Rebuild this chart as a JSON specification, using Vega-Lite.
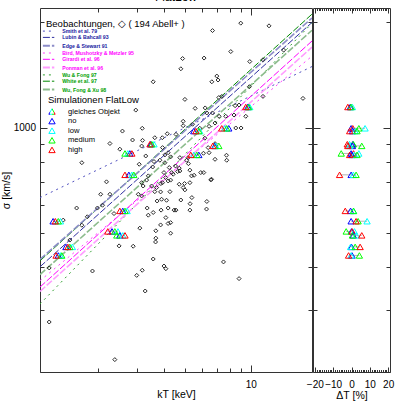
{
"$schema": "https://vega.github.io/schema/vega-lite/v6.json",
"background": "white",
"padding": {"left": 0, "top": -10, "right": 0, "bottom": 0},
"bounds": "flush",
"spacing": 1,
"config": {
  "view": {"stroke": "#333333", "strokeWidth": 1},
  "font": "Liberation Sans",
  "axis": {"grid": false, "domain": false, "tickColor": "#333333", "tickWidth": 1, "labelFont": "Liberation Sans", "labelFontSize": 10, "labelColor": "#000000", "titleFont": "Liberation Sans", "titleFontSize": 10.5, "titleFontWeight": "normal", "titleColor": "#000000", "labelFlush": false}
},
"datasets": {
  "obs": [
    {"kT":9.00,"sigma":1991},{"kT":12.13,"sigma":1956},{"kT":6.68,"sigma":1896},{"kT":8.10,"sigma":1651},{"kT":6.11,"sigma":1582},
    {"kT":4.87,"sigma":1577},{"kT":4.78,"sigma":1474},{"kT":9.90,"sigma":1546},{"kT":11.38,"sigma":1564},{"kT":14.16,"sigma":1667},
    {"kT":6.99,"sigma":1405},{"kT":6.63,"sigma":1353},{"kT":7.08,"sigma":1369},{"kT":3.57,"sigma":1353},{"kT":4.99,"sigma":1205},
    {"kT":9.86,"sigma":1310},{"kT":11.38,"sigma":1229},{"kT":17.36,"sigma":1213},{"kT":7.14,"sigma":1220},{"kT":7.36,"sigma":1228},
    {"kT":2.97,"sigma":1123},{"kT":5.56,"sigma":1136},{"kT":6.18,"sigma":1139},{"kT":6.29,"sigma":1102},{"kT":6.68,"sigma":1102},
    {"kT":8.48,"sigma":1156},{"kT":8.84,"sigma":1161},{"kT":9.49,"sigma":1078},{"kT":8.38,"sigma":1087},{"kT":4.90,"sigma":1043},
    {"kT":4.90,"sigma":1013},{"kT":7.68,"sigma":1078},{"kT":5.84,"sigma":996},{"kT":6.44,"sigma":1009},{"kT":6.86,"sigma":1031},
    {"kT":7.16,"sigma":1078},{"kT":8.54,"sigma":998},{"kT":9.03,"sigma":998},{"kT":3.18,"sigma":996},{"kT":2.58,"sigma":978},
    {"kT":5.41,"sigma":1023},{"kT":2.26,"sigma":901},{"kT":2.87,"sigma":922},{"kT":3.19,"sigma":920},{"kT":3.63,"sigma":936},
    {"kT":3.93,"sigma":936},{"kT":4.14,"sigma":961},{"kT":4.54,"sigma":957},{"kT":3.94,"sigma":877},{"kT":4.18,"sigma":848},
    {"kT":4.04,"sigma":836},{"kT":4.29,"sigma":825},{"kT":3.83,"sigma":807},{"kT":4.04,"sigma":794},{"kT":1.68,"sigma":794},
    {"kT":3.55,"sigma":772},{"kT":4.23,"sigma":769},{"kT":4.52,"sigma":777},{"kT":4.73,"sigma":821},{"kT":5.16,"sigma":821},
    {"kT":4.73,"sigma":752},{"kT":4.41,"sigma":736},{"kT":4.07,"sigma":720},{"kT":3.39,"sigma":728},{"kT":3.16,"sigma":696},
    {"kT":3.21,"sigma":681},{"kT":3.51,"sigma":681},{"kT":3.70,"sigma":674},{"kT":3.86,"sigma":655},{"kT":3.94,"sigma":696},
    {"kT":4.18,"sigma":704},{"kT":5.26,"sigma":696},{"kT":2.18,"sigma":700},{"kT":2.05,"sigma":645},{"kT":2.26,"sigma":645},
    {"kT":3.05,"sigma":645},{"kT":3.90,"sigma":624},{"kT":4.90,"sigma":674},{"kT":5.35,"sigma":728},{"kT":2.51,"sigma":868},
    {"kT":3.16,"sigma":886},{"kT":3.30,"sigma":830},{"kT":3.08,"sigma":786},{"kT":3.60,"sigma":800},{"kT":6.09,"sigma":744},
    {"kT":6.61,"sigma":712},{"kT":6.86,"sigma":900},{"kT":7.74,"sigma":834},{"kT":7.76,"sigma":807},{"kT":6.07,"sigma":845},
    {"kT":6.44,"sigma":848},{"kT":6.86,"sigma":812},{"kT":5.08,"sigma":807},{"kT":5.18,"sigma":789},{"kT":4.70,"sigma":766},
    {"kT":4.62,"sigma":749},{"kT":5.26,"sigma":756},{"kT":5.90,"sigma":744},{"kT":5.50,"sigma":731},{"kT":6.56,"sigma":709},
    {"kT":4.70,"sigma":689},{"kT":4.97,"sigma":692},{"kT":4.99,"sigma":664},{"kT":4.78,"sigma":621},{"kT":5.37,"sigma":631},
    {"kT":5.27,"sigma":606},{"kT":6.29,"sigma":615},{"kT":5.26,"sigma":581},{"kT":6.27,"sigma":585},{"kT":4.54,"sigma":581},
    {"kT":3.72,"sigma":617},{"kT":4.11,"sigma":620},{"kT":3.16,"sigma":638},{"kT":3.63,"sigma":656},{"kT":4.26,"sigma":656},
    {"kT":6.16,"sigma":933},{"kT":6.38,"sigma":877},{"kT":4.00,"sigma":744},{"kT":4.34,"sigma":744},{"kT":3.33,"sigma":708},
    {"kT":3.87,"sigma":692},{"kT":4.29,"sigma":708},{"kT":2.09,"sigma":600},{"kT":1.98,"sigma":589},{"kT":1.59,"sigma":589},
    {"kT":3.35,"sigma":589},{"kT":3.57,"sigma":572},{"kT":3.88,"sigma":581},{"kT":4.18,"sigma":589},{"kT":2.36,"sigma":568},
    {"kT":3.10,"sigma":516},{"kT":3.67,"sigma":507},{"kT":3.67,"sigma":483},{"kT":3.86,"sigma":527},{"kT":4.18,"sigma":532},
    {"kT":2.49,"sigma":459},{"kT":2.89,"sigma":458},{"kT":1.78,"sigma":556},{"kT":1.68,"sigma":526},{"kT":1.48,"sigma":477},
    {"kT":3.39,"sigma":562},{"kT":3.66,"sigma":471},{"kT":4.08,"sigma":553},{"kT":4.29,"sigma":535},{"kT":4.29,"sigma":499},
    {"kT":4.45,"sigma":581},{"kT":3.57,"sigma":421},{"kT":4.00,"sigma":402},{"kT":4.08,"sigma":395},{"kT":3.18,"sigma":391},
    {"kT":3.00,"sigma":378},{"kT":3.28,"sigma":341},{"kT":1.19,"sigma":397},{"kT":1.88,"sigma":389},{"kT":1.19,"sigma":278},
    {"kT":2.38,"sigma":217},{"kT":7.50,"sigma":413},{"kT":8.84,"sigma":370},{"kT":1.38,"sigma":544}
  ],
  "rels": [
    {"rel":"Smith et al. 79","kT":1.08,"sigma":631},{"rel":"Smith et al. 79","kT":19.1,"sigma":1496},
    {"rel":"Lubin & Bahcall 93","kT":1.08,"sigma":400},{"rel":"Lubin & Bahcall 93","kT":19.1,"sigma":2000},
    {"rel":"Edge & Stewart 91","kT":1.08,"sigma":420},{"rel":"Edge & Stewart 91","kT":19.1,"sigma":2060},
    {"rel":"Bird, Mushotzky & Metzler 95","kT":1.08,"sigma":365},{"rel":"Bird, Mushotzky & Metzler 95","kT":19.1,"sigma":1602},
    {"rel":"Girardi et al. 96","kT":1.08,"sigma":350},{"rel":"Girardi et al. 96","kT":19.1,"sigma":1770},
    {"rel":"Ponman et al. 96","kT":1.08,"sigma":340},{"rel":"Ponman et al. 96","kT":19.1,"sigma":1700},
    {"rel":"Wu & Fong 97","kT":1.08,"sigma":313},{"rel":"Wu & Fong 97","kT":19.1,"sigma":1990},
    {"rel":"White et al. 97","kT":1.08,"sigma":416},{"rel":"White et al. 97","kT":19.1,"sigma":2113},
    {"rel":"Wu, Fong & Xu 98","kT":1.08,"sigma":380},{"rel":"Wu, Fong & Xu 98","kT":19.1,"sigma":1900}
  ],
  "sims": [
    {"obj":"H","model":"no","kT":9.69,"sigma":1146,"dT":-0.7},{"obj":"H","model":"low","kT":9.90,"sigma":1146,"dT":0.5},{"obj":"H","model":"medium","kT":9.79,"sigma":1146,"dT":-0.2},{"obj":"H","model":"high","kT":9.49,"sigma":1146,"dT":-2},
    {"obj":"I","model":"no","kT":7.93,"sigma":996,"dT":-0.2},{"obj":"I","model":"low","kT":7.60,"sigma":996,"dT":7.4},{"obj":"I","model":"medium","kT":7.76,"sigma":996,"dT":4},{"obj":"I","model":"high","kT":7.36,"sigma":996,"dT":0.7},
    {"obj":"K","model":"no","kT":5.48,"sigma":978,"dT":0.5},{"obj":"K","model":"low","kT":5.84,"sigma":978,"dT":2},{"obj":"K","model":"medium","kT":5.78,"sigma":978,"dT":3},{"obj":"K","model":"high","kT":5.60,"sigma":978,"dT":-1},
    {"obj":"C","model":"no","kT":3.48,"sigma":897,"dT":0.7},{"obj":"C","model":"low","kT":3.60,"sigma":897,"dT":-1.1},{"obj":"C","model":"medium","kT":3.52,"sigma":897,"dT":1},{"obj":"C","model":"high","kT":3.45,"sigma":897,"dT":-2.3},
    {"obj":"J","model":"no","kT":6.84,"sigma":887,"dT":0.5},{"obj":"J","model":"low","kT":6.91,"sigma":887,"dT":-1},{"obj":"J","model":"medium","kT":7.14,"sigma":887,"dT":5.6},{"obj":"J","model":"high","kT":6.70,"sigma":887,"dT":-2},
    {"obj":"A","model":"no","kT":2.79,"sigma":844,"dT":-0.2},{"obj":"A","model":"low","kT":2.73,"sigma":844,"dT":4},{"obj":"A","model":"medium","kT":2.65,"sigma":844,"dT":-5.6},{"obj":"A","model":"high","kT":2.85,"sigma":844,"dT":1.1},
    {"obj":"L","model":"no","kT":5.78,"sigma":836,"dT":0.3},{"obj":"L","model":"low","kT":5.48,"sigma":836,"dT":1.5},{"obj":"L","model":"medium","kT":5.66,"sigma":836,"dT":3},{"obj":"L","model":"high","kT":5.31,"sigma":836,"dT":-1},
    {"obj":"B","model":"no","kT":2.76,"sigma":733,"dT":-0.2},{"obj":"B","model":"low","kT":2.85,"sigma":733,"dT":1},{"obj":"B","model":"medium","kT":2.91,"sigma":733,"dT":2.5},{"obj":"B","model":"high","kT":2.65,"sigma":733,"dT":-6.5},
    {"obj":"D","model":"no","kT":2.59,"sigma":578,"dT":-0.5},{"obj":"D","model":"low","kT":2.71,"sigma":578,"dT":1.1},{"obj":"D","model":"medium","kT":2.65,"sigma":578,"dT":1.1},{"obj":"D","model":"high","kT":2.51,"sigma":578,"dT":-3.4},
    {"obj":"E","model":"no","kT":1.24,"sigma":540,"dT":-0.2},{"obj":"E","model":"low","kT":1.34,"sigma":540,"dT":8.5},{"obj":"E","model":"medium","kT":1.31,"sigma":540,"dT":3.6},{"obj":"E","model":"high","kT":1.27,"sigma":540,"dT":2.5},
    {"obj":"F1","model":"no","kT":2.31,"sigma":505,"dT":0},{"obj":"F1","model":"low","kT":2.46,"sigma":505,"dT":1.6},{"obj":"F1","model":"medium","kT":2.38,"sigma":505,"dT":-2.9},{"obj":"F1","model":"high","kT":2.21,"sigma":505,"dT":0.4},
    {"obj":"F2","model":"no","kT":2.51,"sigma":492,"dT":1},{"obj":"F2","model":"low","kT":2.59,"sigma":492,"dT":2.5},{"obj":"F2","model":"medium","kT":2.43,"sigma":492,"dT":0.5},{"obj":"F2","model":"high","kT":2.65,"sigma":492,"dT":5.6},
    {"obj":"G1","model":"no","kT":1.42,"sigma":456,"dT":0},{"obj":"G1","model":"low","kT":1.52,"sigma":456,"dT":-0.5},{"obj":"G1","model":"medium","kT":1.48,"sigma":456,"dT":2},{"obj":"G1","model":"high","kT":1.45,"sigma":456,"dT":4.7},
    {"obj":"G2","model":"no","kT":1.31,"sigma":431,"dT":0.3},{"obj":"G2","model":"low","kT":1.34,"sigma":431,"dT":-0.2},{"obj":"G2","model":"medium","kT":1.36,"sigma":431,"dT":4.3},{"obj":"G2","model":"high","kT":1.28,"sigma":431,"dT":-1.6}
  ]
},
"hconcat": [
  {
    "width": 272, "height": 364,
    "title": {"text": "FlatLow", "fontSize": 12, "fontWeight": "normal", "font": "Liberation Sans", "color": "#000000", "offset": 4},
    "resolve": {"axis": {"x": "independent", "y": "independent"}},
    "layer": [
      {
        "data": {"name": "sims"},
        "mark": {"type": "line", "color": "#b4b4b4", "strokeWidth": 1},
        "encoding": {
          "x": {"field": "kT", "type": "quantitative", "scale": {"type": "log", "domain": [1.08, 19.1], "nice": false},
                "axis": {"orient": "bottom", "values": [2,3,4,5,6,7,8,9], "tickSize": -4, "labels": false, "title": null}},
          "y": {"field": "sigma", "type": "quantitative", "scale": {"type": "log", "domain": [200, 2200], "nice": false},
                "axis": {"orient": "left", "values": [200,300,400,500,600,700,800,900,2000], "tickSize": -4, "labels": false, "title": null}},
          "detail": {"field": "obj", "type": "nominal"},
          "order": {"field": "kT", "type": "quantitative"}
        }
      },
      {
        "data": {"name": "rels"},
        "transform": [{"filter": {"field": "rel", "oneOf": ["Smith et al. 79","Lubin & Bahcall 93","Bird, Mushotzky & Metzler 95","Girardi et al. 96","Wu & Fong 97","White et al. 97"]}}],
        "mark": {"type": "line", "clip": true, "strokeWidth": 1},
        "encoding": {
          "x": {"field": "kT", "type": "quantitative", "scale": {"type": "log", "domain": [1.08, 19.1], "nice": false},
                "axis": {"orient": "top", "values": [2,3,4,5,6,7,8,9], "tickSize": -4, "labels": false, "title": null}},
          "y": {"field": "sigma", "type": "quantitative", "scale": {"type": "log", "domain": [200, 2200], "nice": false},
                "axis": {"orient": "right", "values": [200,300,400,500,600,700,800,900,2000], "tickSize": -4, "labels": false, "title": null}},
          "color": {"field": "rel", "type": "nominal",
            "scale": {"domain": ["Smith et al. 79","Lubin & Bahcall 93","Edge & Stewart 91","Bird, Mushotzky & Metzler 95","Girardi et al. 96","Ponman et al. 96","Wu & Fong 97","White et al. 97","Wu, Fong & Xu 98"],
                      "range": ["#5050c0","#3030a0","#8c8cc8","#ff40ff","#ff00ff","#ff9cff","#30a030","#008800","#8cbc8c"]},
            "legend": {
              "orient": "none", "legendX": 6, "legendY": 11, "padding": 0,
              "title": "Beobachtungen, ◇ ( 194 Abell+ )",
              "titleFont": "Liberation Sans", "titleFontSize": 9.5, "titleFontWeight": "normal", "titleColor": "#000000", "titlePadding": 0,
              "labelFont": "Liberation Sans", "labelFontSize": 5.2, "labelFontWeight": "bold", "labelOffset": 11, "labelLimit": 300,
              "symbolType": "M-1.9,0H1.9", "symbolSize": 36, "symbolStrokeWidth": 1, "rowPadding": 0.3,
              "encode": {
                "labels": {"update": {"fill": {"signal": "(indexof(datum.value,'Smith')>=0 || indexof(datum.value,'Lubin')>=0 || indexof(datum.value,'Edge')>=0) ? '#2020a0' : ((indexof(datum.value,'Bird')>=0 || indexof(datum.value,'Girardi')>=0 || indexof(datum.value,'Ponman')>=0) ? '#ff00ff' : '#00a000')"}}},
                "symbols": {"update": {
                  "strokeDash": {"signal": "(datum.value === 'Smith et al. 79' || datum.value === 'Bird, Mushotzky & Metzler 95' || datum.value === 'Wu & Fong 97') ? [2,3] : [1,0]"},
                  "strokeWidth": {"signal": "(datum.value === 'Edge & Stewart 91' || datum.value === 'Ponman et al. 96' || datum.value === 'Wu, Fong & Xu 98') ? 2 : 1"}
                }}
              }
            }
          },
          "strokeDash": {"field": "rel", "type": "nominal",
            "scale": {"domain": ["Smith et al. 79","Lubin & Bahcall 93","Edge & Stewart 91","Bird, Mushotzky & Metzler 95","Girardi et al. 96","Ponman et al. 96","Wu & Fong 97","White et al. 97","Wu, Fong & Xu 98"],
                      "range": [[2,4],[7,2],[7,2],[2,4],[7,2],[7,2],[2,4],[7,2],[7,2]]},
            "legend": null}
        }
      },
      {
        "data": {"name": "rels"},
        "transform": [{"filter": {"field": "rel", "oneOf": ["Edge & Stewart 91","Ponman et al. 96","Wu, Fong & Xu 98"]}}],
        "mark": {"type": "line", "clip": true, "strokeWidth": 1.6},
        "encoding": {
          "x": {"field": "kT", "type": "quantitative", "scale": {"type": "log", "domain": [1.08, 19.1], "nice": false}, "axis": null},
          "y": {"field": "sigma", "type": "quantitative", "scale": {"type": "log", "domain": [200, 2200], "nice": false}, "axis": null},
          "color": {"field": "rel", "type": "nominal",
            "scale": {"domain": ["Smith et al. 79","Lubin & Bahcall 93","Edge & Stewart 91","Bird, Mushotzky & Metzler 95","Girardi et al. 96","Ponman et al. 96","Wu & Fong 97","White et al. 97","Wu, Fong & Xu 98"],
                      "range": ["#5050c0","#3030a0","#8c8cc8","#ff40ff","#ff00ff","#ff9cff","#30a030","#008800","#8cbc8c"]},
            "legend": null},
          "strokeDash": {"field": "rel", "type": "nominal",
            "scale": {"domain": ["Smith et al. 79","Lubin & Bahcall 93","Edge & Stewart 91","Bird, Mushotzky & Metzler 95","Girardi et al. 96","Ponman et al. 96","Wu & Fong 97","White et al. 97","Wu, Fong & Xu 98"],
                      "range": [[2,4],[7,2],[7,2],[2,4],[7,2],[7,2],[2,4],[7,2],[7,2]]},
            "legend": null}
        }
      },
      {
        "data": {"name": "obs"},
        "mark": {"type": "point", "shape": "diamond", "size": 16, "strokeWidth": 1, "color": "#2a2a2a", "filled": false, "opacity": 1},
        "encoding": {
          "x": {"field": "kT", "type": "quantitative", "scale": {"type": "log", "domain": [1.08, 19.1], "nice": false},
                "axis": {"orient": "bottom", "values": [10], "format": "d", "tickSize": -7, "labelPadding": 14.5, "title": "kT [keV]", "titlePadding": 0}},
          "y": {"field": "sigma", "type": "quantitative", "scale": {"type": "log", "domain": [200, 2200], "nice": false},
                "axis": {"orient": "left", "values": [1000], "format": "d", "tickSize": -7, "labelPadding": 11.5, "title": "σ [km/s]", "titlePadding": 2}}
        }
      },
      {
        "data": {"name": "sims"},
        "mark": {"type": "point", "shape": "triangle-up", "size": 40, "strokeWidth": 1, "filled": false, "opacity": 1},
        "encoding": {
          "x": {"field": "kT", "type": "quantitative", "scale": {"type": "log", "domain": [1.08, 19.1], "nice": false},
                "axis": {"orient": "top", "values": [10], "tickSize": -7, "labels": false, "title": null}},
          "y": {"field": "sigma", "type": "quantitative", "scale": {"type": "log", "domain": [200, 2200], "nice": false},
                "axis": {"orient": "right", "values": [1000], "tickSize": -7, "labels": false, "title": null}},
          "stroke": {"field": "model", "type": "nominal",
            "scale": {"domain": ["gleiches Objekt","no","low","medium","high"],
                      "range": [{"expr": "{gradient: 'linear', x1: 0, y1: 0, x2: 1, y2: 0, stops: [{offset: 0, color: '#0000ff'}, {offset: 0.25, color: '#0000ff'}, {offset: 0.25, color: '#00ffff'}, {offset: 0.5, color: '#00ffff'}, {offset: 0.5, color: '#00ff00'}, {offset: 0.75, color: '#00ff00'}, {offset: 0.75, color: '#ff0000'}, {offset: 1, color: '#ff0000'}]}"},"#0000ff","#00ffff","#00ff00","#ff0000"]},
            "legend": {
              "orient": "none", "legendX": 8, "legendY": 87, "padding": 0,
              "title": "Simulationen FlatLow",
              "titleFont": "Liberation Sans", "titleFontSize": 9.5, "titleFontWeight": "normal", "titleColor": "#000000", "titlePadding": 3,
              "labelFont": "Liberation Sans", "labelFontSize": 7.6, "labelOffset": 12, "labelLimit": 300,
              "symbolType": "triangle-up", "symbolSize": 40, "symbolStrokeWidth": 1, "rowPadding": -0.4,
              "encode": {
                "labels": {"update": {"fill": {"signal": "datum.value === 'gleiches Objekt' ? '#a0a0a0' : (datum.value === 'no' ? '#0000ff' : (datum.value === 'low' ? '#00e0f0' : (datum.value === 'medium' ? '#00e000' : '#ff0000')))"}}}
              }
            }
          }
        }
      }
    ]
  },
  {
    "width": 77, "height": 364,
    "resolve": {"axis": {"x": "independent", "y": "independent"}},
    "layer": [
      {
        "data": {"name": "sims"},
        "mark": {"type": "line", "color": "#b4b4b4", "strokeWidth": 1},
        "encoding": {
          "x": {"field": "dT", "type": "quantitative", "scale": {"domain": [-21, 21], "nice": false},
                "axis": {"orient": "bottom", "values": [-19,-18,-17,-16,-15,-14,-13,-12,-11,-9,-8,-7,-6,-5,-4,-3,-2,-1,1,2,3,4,5,6,7,8,9,11,12,13,14,15,16,17,18,19], "tickSize": -2.5, "labels": false, "title": null}},
          "y": {"field": "sigma", "type": "quantitative", "scale": {"type": "log", "domain": [200, 2200], "nice": false},
                "axis": {"orient": "left", "values": [200,300,400,500,600,700,800,900,2000], "tickSize": -4, "labels": false, "title": null}},
          "detail": {"field": "obj", "type": "nominal"},
          "order": {"field": "dT", "type": "quantitative"}
        }
      },
      {
        "data": {"name": "sims"},
        "mark": {"type": "point", "shape": "triangle-up", "size": 40, "strokeWidth": 1, "filled": false, "opacity": 1},
        "encoding": {
          "x": {"field": "dT", "type": "quantitative", "scale": {"domain": [-21, 21], "nice": false},
                "axis": {"orient": "bottom", "values": [-20,-10,0,10,20], "tickSize": -5, "labelPadding": 12.5, "title": "ΔT [%]", "titlePadding": 1}},
          "y": {"field": "sigma", "type": "quantitative", "scale": {"type": "log", "domain": [200, 2200], "nice": false},
                "axis": {"orient": "left", "values": [1000], "tickSize": -7, "labels": false, "title": null}},
          "stroke": {"field": "model", "type": "nominal",
            "scale": {"domain": ["no","low","medium","high"], "range": ["#0000ff","#00ffff","#00ff00","#ff0000"]},
            "legend": null}
        }
      },
      {
        "data": {"name": "sims"},
        "mark": {"type": "point", "opacity": 0},
        "encoding": {
          "x": {"field": "dT", "type": "quantitative", "scale": {"domain": [-21, 21], "nice": false},
                "axis": {"orient": "top", "values": [-20,-10,0,10,20], "tickSize": -5, "labels": false, "title": null}},
          "y": {"field": "sigma", "type": "quantitative", "scale": {"type": "log", "domain": [200, 2200], "nice": false},
                "axis": {"orient": "right", "values": [1000], "tickSize": -7, "labels": false, "title": null}}
        }
      },
      {
        "data": {"name": "sims"},
        "mark": {"type": "point", "opacity": 0},
        "encoding": {
          "x": {"field": "dT", "type": "quantitative", "scale": {"domain": [-21, 21], "nice": false},
                "axis": {"orient": "top", "values": [-19,-18,-17,-16,-15,-14,-13,-12,-11,-9,-8,-7,-6,-5,-4,-3,-2,-1,1,2,3,4,5,6,7,8,9,11,12,13,14,15,16,17,18,19], "tickSize": -2.5, "labels": false, "title": null}},
          "y": {"field": "sigma", "type": "quantitative", "scale": {"type": "log", "domain": [200, 2200], "nice": false},
                "axis": {"orient": "right", "values": [200,300,400,500,600,700,800,900,2000], "tickSize": -4, "labels": false, "title": null}}
        }
      }
    ]
  }
]
}
